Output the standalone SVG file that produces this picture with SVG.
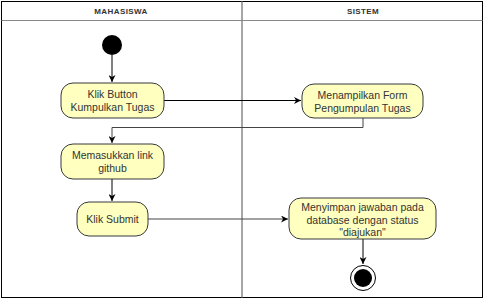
<svg xmlns="http://www.w3.org/2000/svg" width="484" height="300" viewBox="0 0 484 300">
  <defs>
    <marker id="arrow" viewBox="0 0 10 10" refX="10" refY="5" markerWidth="7" markerHeight="7" orient="auto" markerUnits="userSpaceOnUse">
      <path d="M0,0 L10,5 L0,10 L3,5 Z" fill="#000"/>
    </marker>
    <style>
      .lane-title { font-family: "Liberation Sans", Arial, sans-serif; font-size: 8px; font-weight: bold; fill: #333; text-anchor: middle; letter-spacing: 0.4px; }
      .act rect { fill: #ffffc0; stroke: #36393d; stroke-width: 1; }
      .act text { font-family: "Liberation Sans", Arial, sans-serif; font-size: 10.5px; fill: #333; text-anchor: middle; }
      .flow { fill: none; stroke: #000; stroke-width: 1; }
      .flow-grey { fill: none; stroke: #444; stroke-width: 1; }
    </style>
  </defs>

  <rect width="484" height="300" fill="#fff"/>

  <!-- swimlane frame -->
  <g id="lanes">
    <rect x="1.5" y="1.5" width="481" height="296" fill="none" stroke="#000" stroke-width="1"/>
    <line x1="1.5" y1="20.5" x2="482.5" y2="20.5" stroke="#888" stroke-width="1"/>
    <line x1="242" y1="1.5" x2="242" y2="297.5" stroke="#888" stroke-width="1.5"/>
    <text class="lane-title" x="121" y="14">MAHASISWA</text>
    <text class="lane-title" x="363" y="14">SISTEM</text>
  </g>

  <!-- connectors -->
  <g id="connectors">
    <path class="flow" d="M112,55 V82" marker-end="url(#arrow)"/>
    <path class="flow" d="M164,100.5 H301" marker-end="url(#arrow)"/>
    <path class="flow-grey" d="M363,118 V127.5 H112 V143" marker-end="url(#arrow)"/>
    <path class="flow" d="M112,179 V201" marker-end="url(#arrow)"/>
    <path class="flow-grey" d="M148,219 H288" marker-end="url(#arrow)"/>
    <path class="flow" d="M363,239 V264" marker-end="url(#arrow)"/>
  </g>

  <!-- start -->
  <g id="start">
    <circle cx="112" cy="45" r="10" fill="#000"/>
  </g>

  <g id="klik-button" class="act">
    <rect x="61" y="83" width="103" height="35" rx="12"/>
    <text x="112.5" y="98">Klik Button</text>
    <text x="112.5" y="111">Kumpulkan Tugas</text>
  </g>

  <g id="tampil-form" class="act">
    <rect x="302" y="84" width="121" height="34" rx="12"/>
    <text x="362.5" y="99">Menampilkan Form</text>
    <text x="362.5" y="112">Pengumpulan Tugas</text>
  </g>

  <g id="masukkan-link" class="act">
    <rect x="61" y="144" width="103" height="35" rx="12"/>
    <text x="112.5" y="159">Memasukkan link</text>
    <text x="112.5" y="172">github</text>
  </g>

  <g id="klik-submit" class="act">
    <rect x="77" y="202" width="71" height="34" rx="12"/>
    <text x="112.5" y="223">Klik Submit</text>
  </g>

  <g id="simpan-jawaban" class="act">
    <rect x="289" y="198" width="147" height="41" rx="12"/>
    <text x="362.5" y="211">Menyimpan jawaban pada</text>
    <text x="362.5" y="223.5">database dengan status</text>
    <text x="362.5" y="236">"diajukan"</text>
  </g>

  <!-- end -->
  <g id="end">
    <circle cx="363" cy="278" r="12.5" fill="#fff" stroke="#000" stroke-width="1"/>
    <circle cx="363" cy="278" r="9" fill="#000"/>
  </g>
</svg>
